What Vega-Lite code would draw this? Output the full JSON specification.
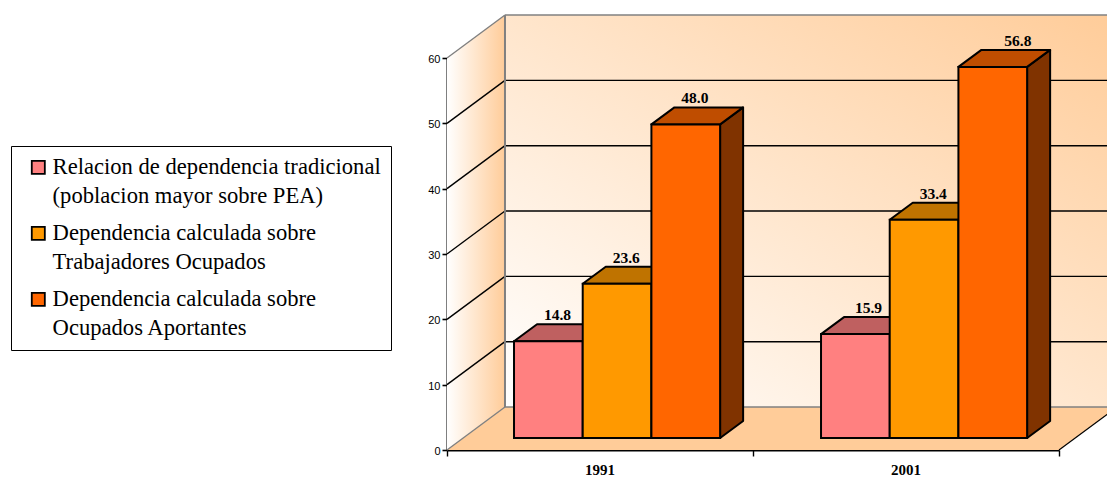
{
  "$schema": "https://vega.github.io/schema/vega-lite/v6.json",
  "autosize": {"type": "none"},
  "padding": {"left": 447, "top": 58, "right": 48, "bottom": 27},
  "width": 612,
  "height": 392,
  "background": "white",
  "view": {"stroke": null},
  "config": {
    "axis": {"title": null, "grid": false, "domainColor": "#000000", "domainWidth": 2, "tickColor": "#000000", "zindex": 1},
    "axisX": {"labels": false, "tickWidth": 1.4, "tickSize": 6},
    "axisY": {"tickWidth": 1.6, "tickSize": 5, "labelFont": "Liberation Sans", "labelFontSize": 11, "labelColor": "#000000", "labelPadding": 2, "labelOffset": 1.5}
  },
  "datasets": {
    "bars": [
      {"year": "1991", "series": "Relacion de dependencia tradicional (poblacion mayor sobre PEA)", "value": 14.8},
      {"year": "1991", "series": "Dependencia calculada sobre Trabajadores Ocupados", "value": 23.6},
      {"year": "1991", "series": "Dependencia calculada sobre Ocupados Aportantes", "value": 48.0},
      {"year": "2001", "series": "Relacion de dependencia tradicional (poblacion mayor sobre PEA)", "value": 15.9},
      {"year": "2001", "series": "Dependencia calculada sobre Trabajadores Ocupados", "value": 33.4},
      {"year": "2001", "series": "Dependencia calculada sobre Ocupados Aportantes", "value": 56.8}
    ],
    "ticks": [{"tick": 0}, {"tick": 10}, {"tick": 20}, {"tick": 30}, {"tick": 40}, {"tick": 50}, {"tick": 60}],
    "depth": [{"t": 0}, {"t": 1}],
    "years": [{"year": "1991"}, {"year": "2001"}]
  },
  "layer": [
    {
      "description": "Back wall with its diagonal fade",
      "data": {"name": "ticks"},
      "transform": [{"aggregate": [{"op": "max", "field": "tick", "as": "top"}]}],
      "mark": {
        "type": "rect",
        "color": {
          "gradient": "linear", "x1": 0, "y1": 1, "x2": 1, "y2": 0,
          "stops": [{"offset": 0, "color": "#ffffff"}, {"offset": 1, "color": "#ffcc99"}]
        }
      },
      "encoding": {
        "x": {"datum": 0.1895, "type": "quantitative", "scale": {"domain": [0, 2], "nice": false, "zero": false}},
        "x2": {"datum": 2.1895},
        "y": {"datum": 6.58, "type": "quantitative", "scale": {"domain": [0, 60], "nice": false, "zero": false}},
        "y2": {"datum": 66.58}
      }
    },
    {
      "description": "Floor",
      "data": {"name": "depth"},
      "transform": [
        {"calculate": "datum.t * 0.1895", "as": "xa"},
        {"calculate": "2 + datum.t * 0.1895", "as": "xb"},
        {"calculate": "datum.t * 6.58", "as": "v"}
      ],
      "mark": {"type": "area", "orient": "horizontal", "color": "#ffcc99"},
      "encoding": {
        "y": {"field": "v", "type": "quantitative", "scale": {"domain": [0, 60], "nice": false, "zero": false}},
        "x": {"field": "xa", "type": "quantitative", "scale": {"domain": [0, 2], "nice": false, "zero": false}},
        "x2": {"field": "xb"}
      }
    },
    {
      "description": "Left wall",
      "data": {"name": "depth"},
      "transform": [
        {"calculate": "datum.t * 0.1895", "as": "xa"},
        {"calculate": "datum.t * 6.58", "as": "low"},
        {"calculate": "60 + datum.t * 6.58", "as": "high"}
      ],
      "mark": {
        "type": "area",
        "orient": "vertical",
        "color": {
          "gradient": "linear", "x1": 0, "y1": 0, "x2": 1, "y2": 0,
          "stops": [{"offset": 0, "color": "#ffffff"}, {"offset": 1, "color": "#ffcc99"}]
        }
      },
      "encoding": {
        "x": {"field": "xa", "type": "quantitative", "scale": {"domain": [0, 2], "nice": false, "zero": false}},
        "y": {"field": "low", "type": "quantitative", "scale": {"domain": [0, 60], "nice": false, "zero": false}},
        "y2": {"field": "high"}
      }
    },
    {
      "description": "Gridlines across the back wall",
      "data": {"name": "ticks"},
      "transform": [
        {"calculate": "datum.tick + 6.58", "as": "back"},
        {"calculate": "datum.tick === 0 || datum.tick === 60 ? 'frame' : 'grid'", "as": "kind"}
      ],
      "mark": {"type": "rule", "strokeWidth": 1.4},
      "encoding": {
        "x": {"datum": 0.1895, "type": "quantitative", "scale": {"domain": [0, 2], "nice": false, "zero": false}},
        "x2": {"datum": 2.1895},
        "y": {"field": "back", "type": "quantitative", "scale": {"domain": [0, 60], "nice": false, "zero": false}},
        "stroke": {"field": "kind", "type": "nominal", "scale": {"domain": ["frame", "grid"], "range": ["#808080", "#000000"]}, "legend": null}
      }
    },
    {
      "description": "Gridlines across the left wall",
      "data": {"name": "ticks"},
      "transform": [
        {"calculate": "datum.tick + 6.58", "as": "back"},
        {"calculate": "datum.tick === 0 || datum.tick === 60 ? 'frame' : 'grid'", "as": "kind"}
      ],
      "mark": {"type": "rule", "strokeWidth": 1.4},
      "encoding": {
        "x": {"datum": 0, "type": "quantitative", "scale": {"domain": [0, 2], "nice": false, "zero": false}},
        "x2": {"datum": 0.1895},
        "y": {"field": "tick", "type": "quantitative", "scale": {"domain": [0, 60], "nice": false, "zero": false}},
        "y2": {"field": "back"},
        "stroke": {"field": "kind", "type": "nominal", "scale": {"domain": ["frame", "grid"], "range": ["#808080", "#000000"]}, "legend": null}
      }
    },
    {
      "description": "Corner between the two walls, and the floor's right edge",
      "data": {"name": "ticks"},
      "transform": [{"aggregate": [{"op": "max", "field": "tick", "as": "top"}]}],
      "layer": [
        {
          "mark": {"type": "rule", "stroke": "#808080", "strokeWidth": 2},
          "encoding": {
            "x": {"datum": 0.1895, "type": "quantitative", "scale": {"domain": [0, 2], "nice": false, "zero": false}},
            "y": {"datum": 6.58, "type": "quantitative", "scale": {"domain": [0, 60], "nice": false, "zero": false}},
            "y2": {"datum": 66.58}
          }
        },
        {
          "mark": {"type": "rule", "stroke": "#000000", "strokeWidth": 1.2},
          "encoding": {
            "x": {"datum": 2, "type": "quantitative", "scale": {"domain": [0, 2], "nice": false, "zero": false}},
            "x2": {"datum": 2.1895},
            "y": {"datum": 0, "type": "quantitative", "scale": {"domain": [0, 60], "nice": false, "zero": false}},
            "y2": {"datum": 6.58}
          }
        }
      ]
    },
    {
      "description": "Bars, each with a side face, a top face and a front face",
      "data": {"name": "bars"},
      "transform": [
        {"window": [{"op": "row_number", "as": "rank"}], "groupby": ["year"]},
        {"calculate": "indexof(['1991','2001'], datum.year) * 1.0033 + 0.219 + (datum.rank - 1) * 0.2245", "as": "left"},
        {"calculate": "datum.left + 0.2245", "as": "right"},
        {"calculate": "1.84", "as": "base"},
        {"calculate": "datum.value + 1.84", "as": "top"}
      ],
      "layer": [
        {
          "transform": [
            {"calculate": "[0, 1]", "as": "t"},
            {"flatten": ["t"]},
            {"calculate": "datum.right + datum.t * 0.0752", "as": "sx"},
            {"calculate": "datum.base + datum.t * 2.6", "as": "low"},
            {"calculate": "datum.top + datum.t * 2.6", "as": "high"}
          ],
          "mark": {"type": "area", "orient": "vertical", "stroke": "#000000", "strokeWidth": 2, "strokeJoin": "round"},
          "encoding": {
            "x": {"field": "sx", "type": "quantitative", "scale": {"domain": [0, 2], "nice": false, "zero": false}},
            "y": {"field": "low", "type": "quantitative", "scale": {"domain": [0, 60], "nice": false, "zero": false}},
            "y2": {"field": "high"},
            "detail": [{"field": "year"}, {"field": "rank"}],
            "fill": {
              "field": "series", "type": "nominal", "sort": null, "legend": null,
              "scale": {
                "domain": ["Relacion de dependencia tradicional (poblacion mayor sobre PEA)", "Dependencia calculada sobre Trabajadores Ocupados", "Dependencia calculada sobre Ocupados Aportantes"],
                "range": ["#804040", "#804d00", "#803300"]
              }
            }
          }
        },
        {
          "transform": [
            {"calculate": "[0, 1]", "as": "t"},
            {"flatten": ["t"]},
            {"calculate": "datum.left + datum.t * 0.0752", "as": "xa"},
            {"calculate": "datum.right + datum.t * 0.0752", "as": "xb"},
            {"calculate": "datum.top + datum.t * 2.6", "as": "v"}
          ],
          "mark": {"type": "area", "orient": "horizontal", "stroke": "#000000", "strokeWidth": 2, "strokeJoin": "round"},
          "encoding": {
            "y": {"field": "v", "type": "quantitative", "scale": {"domain": [0, 60], "nice": false, "zero": false}},
            "x": {"field": "xa", "type": "quantitative", "scale": {"domain": [0, 2], "nice": false, "zero": false}},
            "x2": {"field": "xb"},
            "detail": [{"field": "year"}, {"field": "rank"}],
            "fill": {
              "field": "series", "type": "nominal", "sort": null, "legend": null,
              "scale": {
                "domain": ["Relacion de dependencia tradicional (poblacion mayor sobre PEA)", "Dependencia calculada sobre Trabajadores Ocupados", "Dependencia calculada sobre Ocupados Aportantes"],
                "range": ["#bf6060", "#bf7300", "#bf4d00"]
              }
            }
          }
        },
        {
          "mark": {"type": "rect", "stroke": "#000000", "strokeWidth": 2},
          "encoding": {
            "x": {"field": "left", "type": "quantitative", "scale": {"domain": [0, 2], "nice": false, "zero": false}},
            "x2": {"field": "right"},
            "y": {"field": "base", "type": "quantitative", "scale": {"domain": [0, 60], "nice": false, "zero": false}},
            "y2": {"field": "top"},
            "fill": {
              "field": "series", "type": "nominal", "sort": null,
              "scale": {
                "domain": ["Relacion de dependencia tradicional (poblacion mayor sobre PEA)", "Dependencia calculada sobre Trabajadores Ocupados", "Dependencia calculada sobre Ocupados Aportantes"],
                "range": ["#ff8080", "#ff9900", "#ff6600"]
              },
              "legend": {
                "orient": "none",
                "legendX": -436,
                "legendY": 88,
                "title": null,
                "fillColor": "#ffffff",
                "strokeColor": "#000000",
                "padding": 10,
                "symbolType": "square",
                "symbolSize": 170,
                "symbolStrokeColor": "#000000",
                "symbolStrokeWidth": 1.8,
                "symbolOffset": 6,
                "labelFont": "Liberation Serif",
                "labelFontSize": 22.6,
                "labelColor": "#000000",
                "labelLimit": 400,
                "labelOffset": 3,
                "rowPadding": 14,
                "labelExpr": "split(replace(replace(replace(datum.label, ' (', '|('), 'sobre T', 'sobre|T'), 'sobre O', 'sobre|O'), '|')",
                "encoding": {"labels": {"lineHeight": {"value": 29}}}
              }
            }
          }
        },
        {
          "transform": [
            {"calculate": "(datum.left + datum.right) / 2 + 0.03 + (datum.value === 56.8 ? 0.052 : datum.value === 15.9 ? 0.013 : 0)", "as": "mid"},
            {"calculate": "datum.top + 2.6", "as": "above"}
          ],
          "mark": {"type": "text", "font": "Liberation Serif", "fontWeight": "bold", "fontSize": 15.5, "baseline": "alphabetic", "dy": -4, "color": "#000000"},
          "encoding": {
            "x": {"field": "mid", "type": "quantitative", "scale": {"domain": [0, 2], "nice": false, "zero": false}},
            "y": {"field": "above", "type": "quantitative", "scale": {"domain": [0, 60], "nice": false, "zero": false}},
            "text": {"field": "value", "type": "quantitative", "format": ".1f"}
          }
        }
      ],
      "resolve": {"scale": {"fill": "independent"}}
    },
    {
      "description": "Axes and the category labels under them",
      "data": {"name": "years"},
      "transform": [{"calculate": "indexof(['1991','2001'], datum.year) + 0.5", "as": "mid"}],
      "mark": {"type": "text", "font": "Liberation Serif", "fontWeight": "bold", "fontSize": 15, "baseline": "alphabetic", "dy": 25, "color": "#000000"},
      "encoding": {
        "x": {
          "field": "mid", "type": "quantitative",
          "scale": {"domain": [0, 2], "nice": false, "zero": false},
          "axis": {"values": [0, 1, 2]}
        },
        "y": {
          "datum": 0, "type": "quantitative",
          "scale": {"domain": [0, 60], "nice": false, "zero": false},
          "axis": {"values": [0, 10, 20, 30, 40, 50, 60]}
        },
        "text": {"field": "year", "type": "nominal"}
      }
    }
  ],
  "resolve": {"scale": {"fill": "independent"}}
}
